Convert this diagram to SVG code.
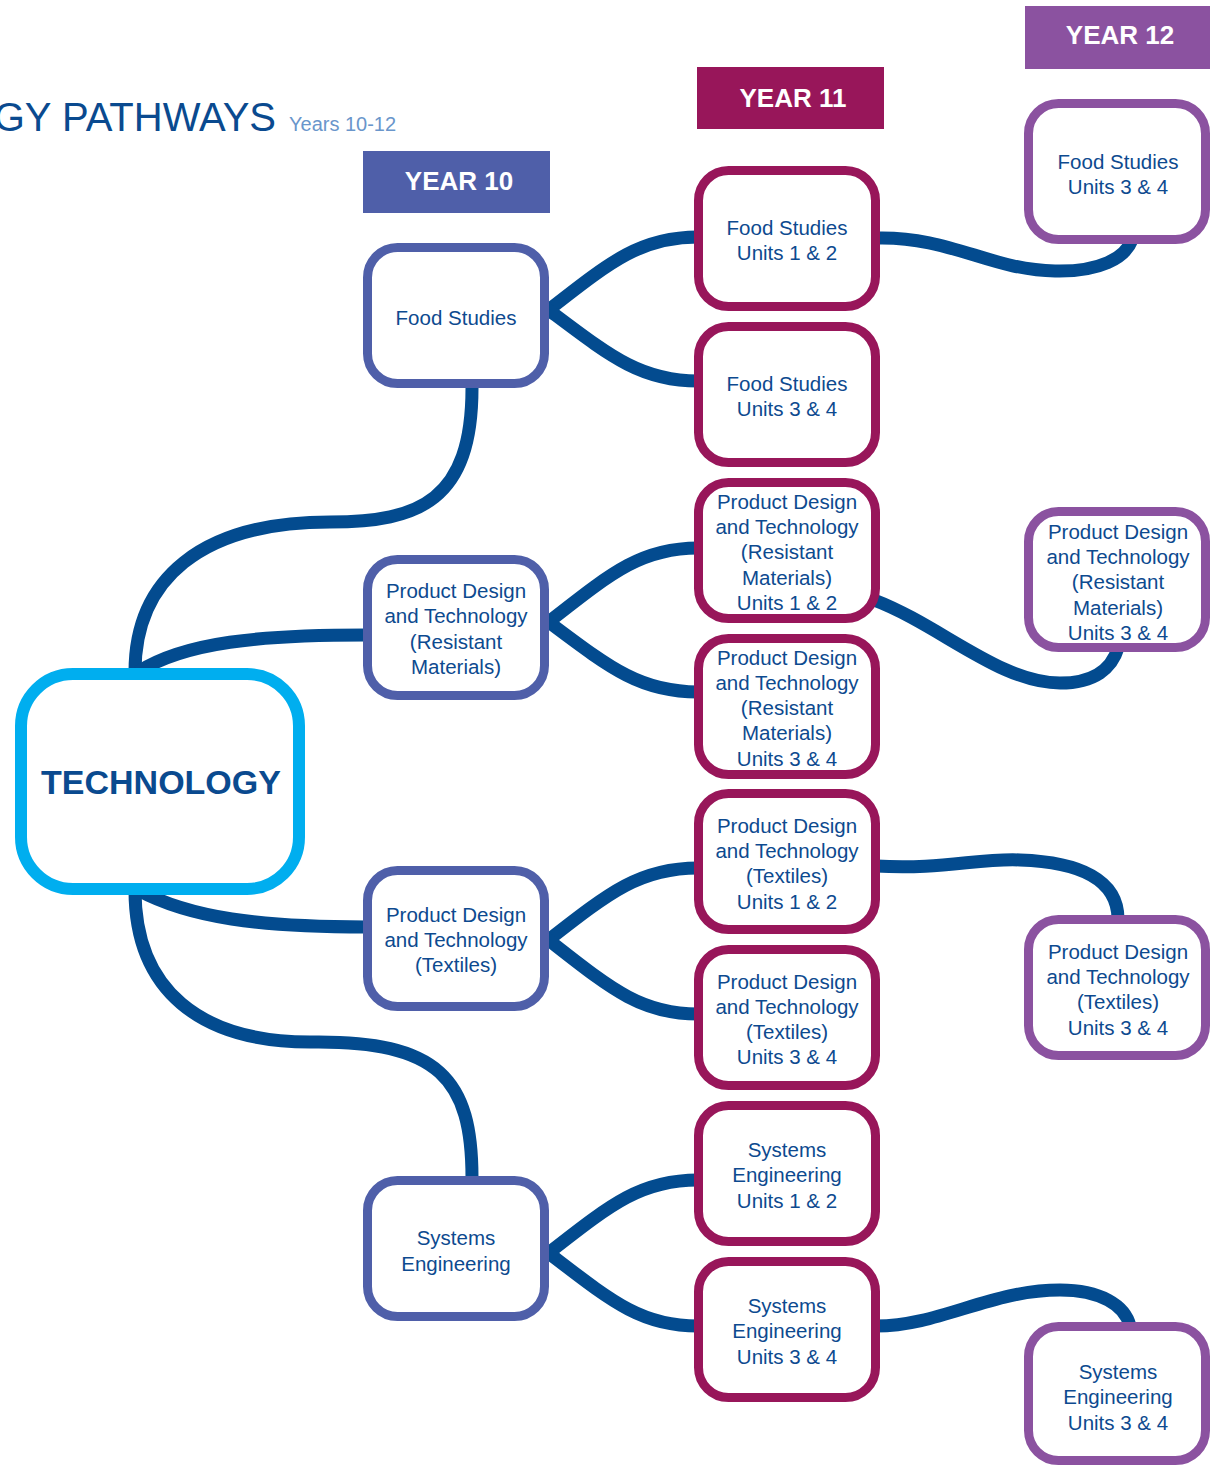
<svg xmlns="http://www.w3.org/2000/svg" width="1210" height="1465" viewBox="0 0 1210 1465">
<style>
.c{fill:none;stroke:#034b8f;stroke-width:13;stroke-linecap:butt}
.b{fill:#fff;stroke-width:9}
.y10{stroke:#4f5fa9}
.y11{stroke:#98165a}
.y12{stroke:#8b52a0}
.t{font-family:"Liberation Sans",Arial,sans-serif;font-size:20.5px;fill:#0d4a8f;text-anchor:middle}
.h{font-family:"Liberation Sans",Arial,sans-serif;font-size:26px;font-weight:bold;fill:#fff;text-anchor:middle}
</style>
<rect width="1210" height="1465" fill="#fff"/>
<g id="title">
<text x="276" y="131" font-family="Liberation Sans, Arial, sans-serif" font-size="40" fill="#0a4a8f" text-anchor="end">GY PATHWAYS</text>
<text x="289" y="131" font-family="Liberation Sans, Arial, sans-serif" font-size="20" fill="#6a96cb">Years 10-12</text>
</g>
<g id="headers">
<g id="hdr-y10"><rect x="363" y="151" width="187" height="62" fill="#4f5fa9"/><text class="h" x="459" y="190">YEAR 10</text></g>
<g id="hdr-y11"><rect x="697" y="67" width="187" height="62" fill="#98165a"/><text class="h" x="793" y="107">YEAR 11</text></g>
<g id="hdr-y12"><rect x="1025" y="6" width="185" height="63" fill="#8b52a0"/><text class="h" x="1120" y="44">YEAR 12</text></g>
</g>
<g id="connectors">
<path class="c" d="M472,388 C472,500 420,522 330,522 C200,522 135,580 135,672"/>
<path class="c" d="M138,672 C185,642 260,635 366,635"/>
<path class="c" d="M138,890 C190,918 260,927 366,927"/>
<path class="c" d="M135,890 C135,990 200,1042 310,1042 C440,1040 472,1080 472,1178"/>
<path class="c" d="M546,312 C610,262 640,237 698,237"/>
<path class="c" d="M546,308 C610,356 640,381 698,381"/>
<path class="c" d="M546,624 C610,574 640,548 698,548"/>
<path class="c" d="M546,620 C610,668 640,692 698,692"/>
<path class="c" d="M546,942 C610,892 640,868 698,868"/>
<path class="c" d="M546,938 C610,988 640,1014 698,1014"/>
<path class="c" d="M546,1255 C610,1205 640,1180 698,1180"/>
<path class="c" d="M546,1251 C610,1300 640,1326 698,1326"/>
<path class="c" d="M876,238 C950,236 990,270 1055,271 C1100,272 1125,258 1132,240"/>
<path class="c" d="M874,600 C940,625 1000,683 1060,683 C1095,683 1112,668 1118,648"/>
<path class="c" d="M876,866 C940,870 980,858 1020,860 C1080,862 1118,880 1118,919"/>
<path class="c" d="M876,1326 C940,1326 990,1290 1060,1290 C1100,1290 1125,1305 1130,1326"/>
</g>
<g id="technology">
<rect x="21" y="674" width="278" height="215" rx="52" fill="#fff" stroke="#00aeef" stroke-width="12"/>
<text x="161" y="794" font-family="Liberation Sans, Arial, sans-serif" font-size="34" font-weight="bold" fill="#0a4a8f" text-anchor="middle">TECHNOLOGY</text>
</g>
<g id="y10-food">
<rect class="b y10" x="367.5" y="247.5" width="177" height="136" rx="30"/>
<text class="t" x="456" y="325">Food Studies</text>
</g>
<g id="y10-pdt-rm">
<rect class="b y10" x="367.5" y="559.5" width="177" height="136" rx="30"/>
<text class="t" x="456" y="598">Product Design</text>
<text class="t" x="456" y="623">and Technology</text>
<text class="t" x="456" y="649">(Resistant</text>
<text class="t" x="456" y="674">Materials)</text>
</g>
<g id="y10-pdt-t">
<rect class="b y10" x="367.5" y="870.5" width="177" height="136" rx="30"/>
<text class="t" x="456" y="922">Product Design</text>
<text class="t" x="456" y="947">and Technology</text>
<text class="t" x="456" y="972">(Textiles)</text>
</g>
<g id="y10-se">
<rect class="b y10" x="367.5" y="1180.5" width="177" height="136" rx="30"/>
<text class="t" x="456" y="1245">Systems</text>
<text class="t" x="456" y="1271">Engineering</text>
</g>
<g id="y11-food-12">
<rect class="b y11" x="698.5" y="170.5" width="177" height="136" rx="30"/>
<text class="t" x="787" y="235">Food Studies</text>
<text class="t" x="787" y="260">Units 1 &amp; 2</text>
</g>
<g id="y11-food-34">
<rect class="b y11" x="698.5" y="326.5" width="177" height="136" rx="30"/>
<text class="t" x="787" y="391">Food Studies</text>
<text class="t" x="787" y="416">Units 3 &amp; 4</text>
</g>
<g id="y11-pdt-rm-12">
<rect class="b y11" x="698.5" y="482.5" width="177" height="136" rx="30"/>
<text class="t" x="787" y="509">Product Design</text>
<text class="t" x="787" y="534">and Technology</text>
<text class="t" x="787" y="559">(Resistant</text>
<text class="t" x="787" y="585">Materials)</text>
<text class="t" x="787" y="610">Units 1 &amp; 2</text>
</g>
<g id="y11-pdt-rm-34">
<rect class="b y11" x="698.5" y="638.5" width="177" height="136" rx="30"/>
<text class="t" x="787" y="665">Product Design</text>
<text class="t" x="787" y="690">and Technology</text>
<text class="t" x="787" y="715">(Resistant</text>
<text class="t" x="787" y="740">Materials)</text>
<text class="t" x="787" y="766">Units 3 &amp; 4</text>
</g>
<g id="y11-pdt-t-12">
<rect class="b y11" x="698.5" y="793.5" width="177" height="136" rx="30"/>
<text class="t" x="787" y="833">Product Design</text>
<text class="t" x="787" y="858">and Technology</text>
<text class="t" x="787" y="883">(Textiles)</text>
<text class="t" x="787" y="909">Units 1 &amp; 2</text>
</g>
<g id="y11-pdt-t-34">
<rect class="b y11" x="698.5" y="949.5" width="177" height="136" rx="30"/>
<text class="t" x="787" y="989">Product Design</text>
<text class="t" x="787" y="1014">and Technology</text>
<text class="t" x="787" y="1039">(Textiles)</text>
<text class="t" x="787" y="1064">Units 3 &amp; 4</text>
</g>
<g id="y11-se-12">
<rect class="b y11" x="698.5" y="1105.5" width="177" height="136" rx="30"/>
<text class="t" x="787" y="1157">Systems</text>
<text class="t" x="787" y="1182">Engineering</text>
<text class="t" x="787" y="1208">Units 1 &amp; 2</text>
</g>
<g id="y11-se-34">
<rect class="b y11" x="698.5" y="1261.5" width="177" height="136" rx="30"/>
<text class="t" x="787" y="1313">Systems</text>
<text class="t" x="787" y="1338">Engineering</text>
<text class="t" x="787" y="1364">Units 3 &amp; 4</text>
</g>
<g id="y12-food-34">
<rect class="b y12" x="1028.5" y="103.5" width="177" height="136" rx="30"/>
<text class="t" x="1118" y="169">Food Studies</text>
<text class="t" x="1118" y="194">Units 3 &amp; 4</text>
</g>
<g id="y12-pdt-rm-34">
<rect class="b y12" x="1028.5" y="511.5" width="177" height="136" rx="30"/>
<text class="t" x="1118" y="539">Product Design</text>
<text class="t" x="1118" y="564">and Technology</text>
<text class="t" x="1118" y="589">(Resistant</text>
<text class="t" x="1118" y="615">Materials)</text>
<text class="t" x="1118" y="640">Units 3 &amp; 4</text>
</g>
<g id="y12-pdt-t-34">
<rect class="b y12" x="1028.5" y="919.5" width="177" height="136" rx="30"/>
<text class="t" x="1118" y="959">Product Design</text>
<text class="t" x="1118" y="984">and Technology</text>
<text class="t" x="1118" y="1009">(Textiles)</text>
<text class="t" x="1118" y="1035">Units 3 &amp; 4</text>
</g>
<g id="y12-se-34">
<rect class="b y12" x="1028.5" y="1326.5" width="177" height="134" rx="30"/>
<text class="t" x="1118" y="1379">Systems</text>
<text class="t" x="1118" y="1404">Engineering</text>
<text class="t" x="1118" y="1430">Units 3 &amp; 4</text>
</g>
</svg>
